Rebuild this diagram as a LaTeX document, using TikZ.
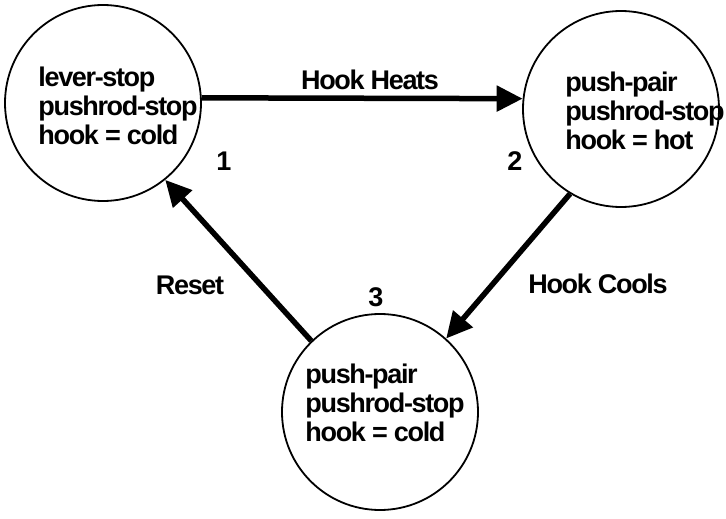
\documentclass[tikz,border=0pt]{standalone}
\usepackage{fontspec}
\setmainfont{Liberation Sans}
\newfontfamily\tightsans[LetterSpace=-5]{Liberation Sans}
\usetikzlibrary{arrows.meta}
\begin{document}
\begin{tikzpicture}[x=1pt,y=-1pt,
  state/.style={circle,draw=black,line width=1.8pt,minimum size=196pt,inner sep=0pt},
  statetext/.style={align=left,inner sep=0pt,font=\tightsans\fontsize{27}{29}\selectfont\bfseries},
  lbl/.style={inner sep=0pt,font=\tightsans\fontsize{27}{29}\selectfont\bfseries},
  trans/.style={line width=5.5pt,-{Triangle[length=26pt,width=25pt]}}]
  \useasboundingbox (0,0) rectangle (726,519);
  % the three states
  \node[state] (c1) at (103,103) {};
  \node[state] (c2) at (621,109) {};
  \node[state] (c3) at (380,412) {};
  \node[statetext] (t1) at (118,106) {lever-stop\\pushrod-stop\\hook = cold};
  \node[statetext] (t2) at (645,111) {push-pair\\pushrod-stop\\hook = hot};
  \node[statetext] (t3) at (385,403) {push-pair\\pushrod-stop\\hook = cold};
  % state numbers
  \node[lbl] (n1) at (224,161) {1};
  \node[lbl] (n2) at (515,161) {2};
  \node[lbl] (n3) at (376,297) {3};
  % transitions
  \draw[trans] (c1.3) -- (c2.174);
  \draw[trans] (c2.-121) -- (c3.48);
  \draw[trans] (c3.134) -- (c1.-51);
  \node[lbl] (l1) at (370,80) {Hook Heats};
  \node[lbl] (l2) at (598,284) {Hook Cools};
  \node[lbl] (l3) at (190,285) {Reset};
\end{tikzpicture}
\end{document}
